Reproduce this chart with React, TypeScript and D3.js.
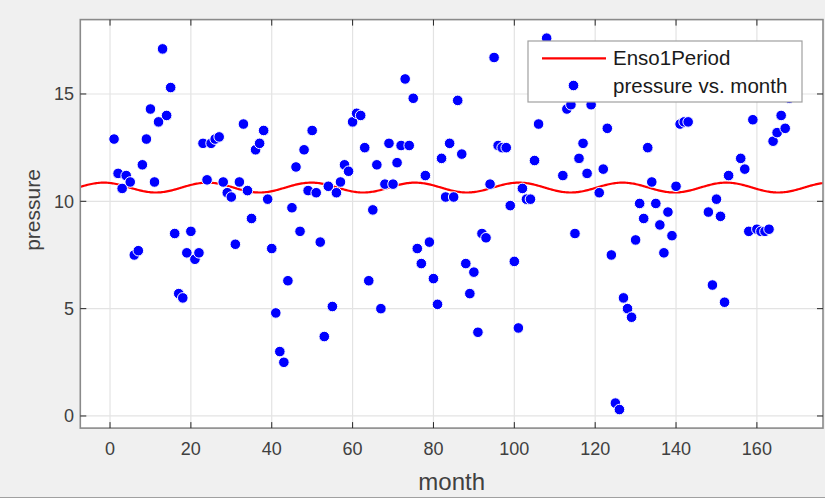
import React from "react";
import * as d3 from "d3";

// ENSO pressure readings, months 1..168
const month: number[] = Array.from({ length: 168 }, (_, i) => i + 1);
const pressure: number[] = [
  12.9, 11.3, 10.6, 11.2, 10.9, 7.5, 7.7, 11.7, 12.9, 14.3,
  10.9, 13.7, 17.1, 14.0, 15.3, 8.5, 5.7, 5.5, 7.6, 8.6,
  7.3, 7.6, 12.7, 11.0, 12.7, 12.9, 13.0, 10.9, 10.4, 10.2,
  8.0, 10.9, 13.6, 10.5, 9.2, 12.4, 12.7, 13.3, 10.1, 7.8,
  4.8, 3.0, 2.5, 6.3, 9.7, 11.6, 8.6, 12.4, 10.5, 13.3,
  10.4, 8.1, 3.7, 10.7, 5.1, 10.4, 10.9, 11.7, 11.4, 13.7,
  14.1, 14.0, 12.5, 6.3, 9.6, 11.7, 5.0, 10.8, 12.7, 10.8,
  11.8, 12.6, 15.7, 12.6, 14.8, 7.8, 7.1, 11.2, 8.1, 6.4,
  5.2, 12.0, 10.2, 12.7, 10.2, 14.7, 12.2, 7.1, 5.7, 6.7,
  3.9, 8.5, 8.3, 10.8, 16.7, 12.6, 12.5, 12.5, 9.8, 7.2,
  4.1, 10.6, 10.1, 10.1, 11.9, 13.6, 16.3, 17.6, 15.5, 16.0,
  15.2, 11.2, 14.3, 14.5, 8.5, 12.0, 12.7, 11.3, 14.5, 15.1,
  10.4, 11.5, 13.4, 7.5, 0.6, 0.3, 5.5, 5.0, 4.6, 8.2,
  9.9, 9.2, 12.5, 10.9, 9.9, 8.9, 7.6, 9.5, 8.4, 10.7,
  13.6, 13.7, 13.7, 16.5, 16.8, 17.1, 15.4, 9.5, 6.1, 10.1,
  9.3, 5.3, 11.2, 16.6, 15.6, 12.0, 11.5, 8.6, 13.8, 8.7,
  8.6, 8.6, 8.7, 12.8, 13.2, 14.0, 13.4, 14.8,
];

// One-period Fourier fit: a0 + amp * cos(2*pi*(x - phase)/period)
const fitA0 = 10.64;
const fitAmp = 0.23;
const fitPeriod = 25.66;
const fitPhase = 24.13;

const xTicks: number[] = [0, 20, 40, 60, 80, 100, 120, 140, 160];
const yTicks: number[] = [0, 5, 10, 15];
const legendLabels: string[] = ["Enso1Period", "pressure vs. month"];

const W = 825;
const H = 498;
const left = 80.3;
const right = 823;
const top = 19.6;
const bottom = 428.1;
const FONT = "'Liberation Sans', Arial, Helvetica, sans-serif";

export default function App() {
  const xs = d3.scaleLinear().domain([-7.35, 176.35]).range([left, right]);
  const ys = d3.scaleLinear().domain([-0.565, 18.465]).range([bottom, top]);

  const fitX = d3.range(0, 601).map((i) => -7.35 + (i / 600) * (176.35 + 7.35));
  const fitPts: [number, number][] = fitX.map((x) => [
    x,
    fitA0 + fitAmp * Math.cos((2 * Math.PI * (x - fitPhase)) / fitPeriod),
  ]);
  const line = d3
    .line<[number, number]>()
    .x((d) => xs(d[0]))
    .y((d) => ys(d[1]));

  const tickLen = 6;
  const axisColor = "#262626";
  const labelColor = "#404040";

  return (
    <svg
      width={W}
      height={H}
      style={{ position: "absolute", left: 0, top: 0, display: "block" }}
    >
      <rect x={0} y={0} width={W} height={H} fill="#f0f0f0" />
      <line x1={0} x2={W} y1={H - 0.5} y2={H - 0.5} stroke="#a0a0a0" />
      <rect x={left} y={top} width={right - left} height={bottom - top} fill="#ffffff" />
      {/* grid */}
      {xTicks.map((t) => (
        <line key={"gx" + t} x1={xs(t)} x2={xs(t)} y1={top} y2={bottom} stroke="#e3e3e3" strokeWidth={1.2} />
      ))}
      {yTicks.map((t) => (
        <line key={"gy" + t} x1={left} x2={right} y1={ys(t)} y2={ys(t)} stroke="#e3e3e3" strokeWidth={1.2} />
      ))}
      {/* fit line */}
      <path d={line(fitPts) || ""} fill="none" stroke="#ff0000" strokeWidth={2.2} />
      {/* points */}
      {pressure.map((p, i) => (
        <circle key={"p" + i} cx={xs(month[i])} cy={ys(p)} r={5.3} fill="#0000ff" stroke="#ffffff" strokeWidth={1} />
      ))}
      {/* box */}
      <rect x={left} y={top} width={right - left} height={bottom - top} fill="none" stroke="#8a8a8a" strokeWidth={1.6} />
      {/* ticks */}
      {xTicks.map((t) => (
        <g key={"tx" + t}>
          <line x1={xs(t)} x2={xs(t)} y1={bottom} y2={bottom - tickLen} stroke={axisColor} />
          <line x1={xs(t)} x2={xs(t)} y1={top} y2={top + tickLen} stroke={axisColor} />
          <text x={xs(t)} y={455} textAnchor="middle" fontFamily={FONT} fontSize={18} fill={labelColor}>
            {t}
          </text>
        </g>
      ))}
      {yTicks.map((t) => (
        <g key={"ty" + t}>
          <line x1={left} x2={left + tickLen} y1={ys(t)} y2={ys(t)} stroke={axisColor} />
          <line x1={right} x2={right - tickLen} y1={ys(t)} y2={ys(t)} stroke={axisColor} />
          <text x={74} y={ys(t)} dy="0.35em" textAnchor="end" fontFamily={FONT} fontSize={18} fill={labelColor}>
            {t}
          </text>
        </g>
      ))}
      {/* axis labels */}
      <text x={(left + right) / 2} y={490} textAnchor="middle" fontFamily={FONT} fontSize={24} fill={labelColor}>
        month
      </text>
      <text
        transform={`translate(40, 210) rotate(-90)`}
        textAnchor="middle"
        fontFamily={FONT}
        fontSize={21}
        fill={labelColor}
      >
        pressure
      </text>
      {/* legend */}
      <rect x={528} y={41} width={274} height={61} fill="#ffffff" stroke="#a0a0a0" strokeWidth={1.2} />
      <line x1={542} x2={606} y1={58.3} y2={58.3} stroke="#ff0000" strokeWidth={2.2} />
      <circle cx={573.5} cy={85.5} r={5.3} fill="#0000ff" stroke="#ffffff" strokeWidth={1} />
      <text x={613} y={58.3} dy="0.35em" fontFamily={FONT} fontSize={20.5} fill="#1a1a1a">
        {legendLabels[0]}
      </text>
      <text x={613} y={85.5} dy="0.35em" fontFamily={FONT} fontSize={20.5} fill="#1a1a1a">
        {legendLabels[1]}
      </text>
    </svg>
  );
}
